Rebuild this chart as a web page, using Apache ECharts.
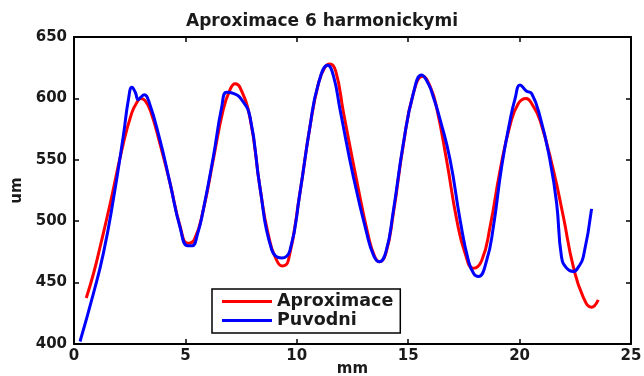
<!DOCTYPE html>
<html>
<head>
<meta charset="utf-8">
<script src="https://cdn.jsdelivr.net/npm/echarts@6/dist/echarts.min.js"></script>
<style>
  html, body { margin: 0; padding: 0; background: #fff; }
  #chart { width: 644px; height: 376px; }
</style>
</head>
<body>
<div id="chart"></div>
<script>
// Approximation by 6 harmonics (red) against the measured profile (blue)
const titleText = 'Aproximace 6 harmonickymi';
const seriesNames = ['Aproximace', 'Puvodni'];
const xTicks = [0, 5, 10, 15, 20, 25];
const yTicks = [400, 450, 500, 550, 600, 650];

const aproxX = [0.55, 0.87, 1.17, 1.62, 2.21, 2.59, 2.8, 3.0, 3.2, 3.45, 3.86, 4.31, 4.76, 5.1, 5.4, 5.8, 6.25, 6.7, 7.0, 7.23, 7.45, 7.9, 8.35, 8.72, 9.1, 9.35, 9.62, 10.14, 10.59, 10.97, 11.25, 11.49, 11.75, 12.09, 12.69, 13.21, 13.5, 13.72, 14.0, 14.33, 14.78, 15.23, 15.65, 16.0, 16.28, 16.72, 17.18, 17.55, 17.92, 18.3, 18.67, 19.12, 19.57, 19.95, 20.29, 20.6, 20.92, 21.51, 21.96, 22.41, 22.86, 23.23, 23.53];
const aproxY = [437.5, 457, 479, 514, 563, 588, 596, 600, 598, 589, 563, 531, 496, 482, 485, 509, 550, 591, 607, 612, 609, 584, 527, 489, 468, 463.5, 468, 523, 577, 612, 625, 628, 622, 589, 533, 488, 471, 467, 474, 506, 562, 604, 618, 609, 592, 550, 501, 474, 461.6, 468, 495, 541, 578, 596, 600, 594, 582, 542, 504, 463, 438, 430, 436];

const puvodniX = [0.27, 0.87, 1.32, 1.76, 2.21, 2.45, 2.6, 2.75, 2.88, 3.0, 3.15, 3.35, 3.86, 4.31, 4.76, 5.1, 5.3, 5.55, 5.8, 6.25, 6.63, 6.85, 7.15, 7.52, 7.9, 8.35, 8.87, 9.32, 9.69, 10.14, 10.59, 10.97, 11.39, 11.65, 11.94, 12.54, 13.14, 13.45, 13.7, 14.0, 14.33, 14.78, 15.23, 15.6, 15.9, 16.13, 16.43, 16.88, 17.33, 17.7, 17.95, 18.15, 18.52, 18.82, 19.19, 19.57, 19.8, 20.02, 20.3, 20.54, 20.92, 21.36, 21.66, 21.88, 22.1, 22.41, 22.65, 22.86, 23.23];
const puvodniY = [402, 441, 474, 517, 569, 600, 609, 605, 599, 601, 603, 598, 566, 531, 495, 480, 480, 490, 509, 552, 593, 605, 604, 599, 585, 527, 477, 470, 476, 523, 577, 612, 627, 618, 591, 536, 490, 472, 467, 475, 508, 563, 604, 619, 612, 601, 583, 550, 501, 468, 457, 455, 468, 495, 544, 582, 600, 611, 606, 604, 585, 550, 515, 471, 462, 459, 463, 471, 510];

const pairs = (xs, ys) => xs.map((x, i) => [x, ys[i]]);

const FONT = 'DejaVu Sans';
const black = '#000';

const axisLabelStyle = { fontFamily: FONT, fontWeight: 'bold', fontSize: 15, color: '#1a1a1a' };

function xAxisDef(position, showLabels) {
  return {
    type: 'value', position: position,
    min: xTicks[0], max: xTicks[xTicks.length - 1], interval: xTicks[1] - xTicks[0],
    axisLine: { show: true, onZero: false, lineStyle: { color: black, width: 2 } },
    axisTick: { show: true, inside: true, length: 5, lineStyle: { color: black, width: 1.5 } },
    axisLabel: Object.assign({ show: showLabels, margin: 5 }, axisLabelStyle),
    splitLine: { show: false }
  };
}
function yAxisDef(position, showLabels) {
  return {
    type: 'value', position: position,
    min: yTicks[0], max: yTicks[yTicks.length - 1], interval: yTicks[1] - yTicks[0],
    axisLine: { show: true, onZero: false, lineStyle: { color: black, width: 2 } },
    axisTick: { show: true, inside: true, length: 5, lineStyle: { color: black, width: 1.5 } },
    axisLabel: Object.assign({ show: showLabels, margin: 7 }, axisLabelStyle),
    splitLine: { show: false }
  };
}

const xBottom = Object.assign(xAxisDef('bottom', true), {
  name: 'mm', nameLocation: 'middle', nameGap: 18, nameMoveOverlap: false,
  nameTextStyle: { fontFamily: FONT, fontWeight: 'bold', fontSize: 15, color: '#1a1a1a' }
});
const yLeft = Object.assign(yAxisDef('left', true), {
  name: 'um', nameLocation: 'middle', nameGap: 48, nameRotate: 90,
  nameTextStyle: { fontFamily: FONT, fontWeight: 'bold', fontSize: 15, color: '#1a1a1a' }
});

const chart = echarts.init(document.getElementById('chart'), null, { renderer: 'canvas' });
chart.setOption({
  animation: false,
  backgroundColor: '#fff',
  title: {
    text: titleText,
    left: 'center', top: 13,
    padding: [0, 0, 0, 61],
    textStyle: { fontFamily: FONT, fontWeight: 'bold', fontSize: 17, color: '#1a1a1a' }
  },
  grid: { left: 74, right: 13, top: 37, bottom: 32, containLabel: false, outerBoundsMode: 'none' },
  xAxis: [xBottom, xAxisDef('top', false)],
  yAxis: [yLeft, yAxisDef('right', false)],
  legend: {
    data: seriesNames,
    orient: 'vertical',
    left: 212, top: 289,
    icon: 'rect', itemWidth: 50, itemHeight: 3, itemGap: 0,
    padding: [3, 7, 3, 10],
    borderColor: black, borderWidth: 1.5, backgroundColor: '#fff',
    textStyle: { fontFamily: FONT, fontWeight: 'bold', fontSize: 17.5, lineHeight: 19, color: '#1a1a1a' }
  },
  series: [
    {
      name: seriesNames[0], type: 'line', data: pairs(aproxX, aproxY),
      xAxisIndex: 0, yAxisIndex: 0,
      smooth: 0.5, showSymbol: false, symbol: 'none',
      lineStyle: { color: '#ff0000', width: 3 }, itemStyle: { color: '#ff0000' }, z: 2
    },
    {
      name: seriesNames[1], type: 'line', data: pairs(puvodniX, puvodniY),
      xAxisIndex: 0, yAxisIndex: 0,
      smooth: 0.5, showSymbol: false, symbol: 'none',
      lineStyle: { color: '#0000ff', width: 3 }, itemStyle: { color: '#0000ff' }, z: 3
    }
  ]
});
</script>
</body>
</html>
